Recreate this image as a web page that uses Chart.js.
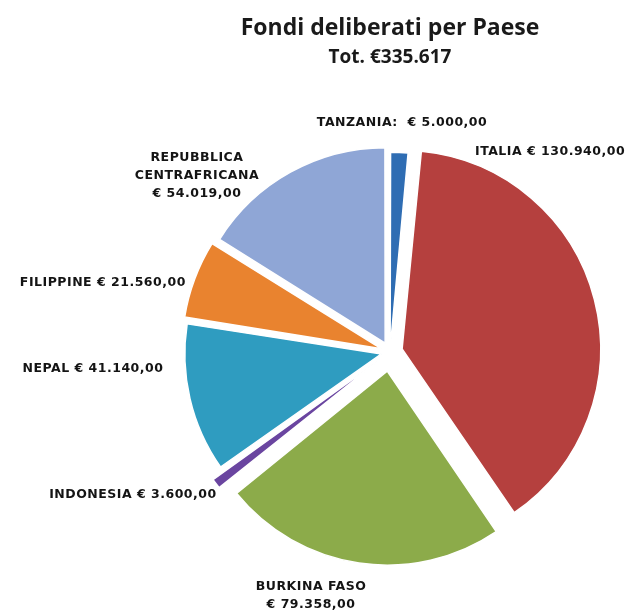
<!DOCTYPE html>
<html>
<head>
<meta charset="utf-8">
<script src="https://cdn.jsdelivr.net/npm/chart.js@4.4.1/dist/chart.umd.min.js"></script>
<style>
  html, body { margin: 0; padding: 0; background: #ffffff; }
  #wrap { width: 633px; height: 614px; position: relative; }
</style>
</head>
<body>
<div id="wrap"><canvas id="c"></canvas></div>
<script>
// ---- data ----
const countries = ['TANZANIA:', 'ITALIA', 'BURKINA FASO', 'INDONESIA', 'NEPAL', 'FILIPPINE', 'REPUBBLICA CENTRAFRICANA'];
const amounts = [5000, 130940, 79358, 3600, 41140, 21560, 54019];
const titleText = 'Fondi deliberati per Paese';

// ---- styling ----
const sliceColors = ['#2f6db3', '#b5403e', '#8cab4a', '#6a45a0', '#2f9cc0', '#e9832f', '#8fa6d6'];
const sliceOffsets = [12, 50, 77, 50, 35, 36, 40];
// label anchor relative to pie centre, in units of the pie radius
const labelDX = [0.062, 0.825, -0.407, -1.325, -1.531, -1.48, -0.995];
const labelDY = [-1.183, -1.033, 1.209, 0.735, 0.086, -0.358, -1.003];
const labelStacked = [false, false, true, false, false, false, true];

function groupThousands(intStr) {
  return intStr.replace(/\B(?=(\d{3})+(?!\d))/g, '.');
}
function euro2(v) {
  const parts = v.toFixed(2).split('.');
  return '€ ' + groupThousands(parts[0]) + ',' + parts[1];
}
const total = amounts.reduce((a, b) => a + b, 0);
const subtitleText = 'Tot. €' + groupThousands(String(total));

const labelPlugin = {
  id: 'sliceLabels',
  afterDatasetsDraw(chart) {
    const ctx = chart.ctx;
    const meta = chart.getDatasetMeta(0);
    ctx.save();
    ctx.fillStyle = '#141414';
    ctx.font = 'bold 12.5px "DejaVu Sans"';
    ctx.letterSpacing = '0.5px';
    ctx.textAlign = 'center';
    ctx.textBaseline = 'middle';
    meta.data.forEach((arc, i) => {
      const p = arc.getProps(['x', 'y', 'outerRadius'], true);
      const cx = p.x + labelDX[i] * p.outerRadius;
      const cy = p.y + labelDY[i] * p.outerRadius;
      let lines;
      if (labelStacked[i]) {
        const words = countries[i].split(' ');
        lines = (countries[i].length > 14) ? words.concat([euro2(amounts[i])]) : [countries[i], euro2(amounts[i])];
      } else {
        lines = [countries[i] + (i === 0 ? '  ' : ' ') + euro2(amounts[i])];
      }
      lines.forEach((ln, k) => ctx.fillText(ln, cx, cy + k * 18));
    });
    ctx.restore();
  }
};

new Chart(document.getElementById('c'), {
  type: 'pie',
  data: {
    labels: countries,
    datasets: [{
      data: amounts,
      backgroundColor: sliceColors,
      borderColor: '#ffffff',
      borderWidth: 1.5,
      offset: sliceOffsets
    }]
  },
  options: {
    responsive: true,
    maintainAspectRatio: false,
    animation: false,
    radius: 194,
    layout: { padding: { left: 147, right: 0, top: 0, bottom: 0 } },
    plugins: {
      legend: { display: false },
      tooltip: { enabled: false },
      title: {
        display: true,
        text: titleText,
        color: '#1a1a1a',
        font: { family: '"Open Sans"', size: 23, weight: 'bold' },
        padding: { top: 14.7, bottom: 0 }
      },
      subtitle: {
        display: true,
        text: subtitleText,
        color: '#1a1a1a',
        font: { family: '"Open Sans"', size: 19, weight: 'bold' },
        padding: { top: 4.3, bottom: 20.6 }
      }
    }
  },
  plugins: [labelPlugin]
});
</script>
</body>
</html>
